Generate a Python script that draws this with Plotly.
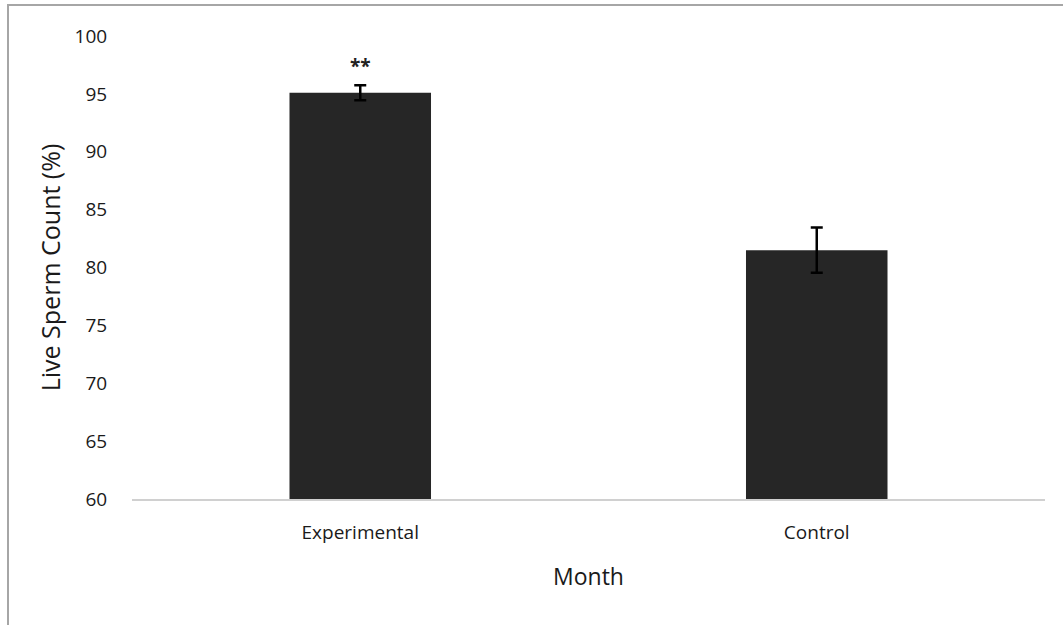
import plotly.graph_objects as go

# Live sperm count by group (mean ± error)
groups = ["Experimental", "Control"]
live_pct = [95.1, 81.5]
err_pct = [0.65, 1.95]
significance = ["**", ""]

y_ticks = [60, 65, 70, 75, 80, 85, 90, 95, 100]

FONT = "'Open Sans', Lato, Arial, sans-serif"

fig = go.Figure()
fig.add_trace(go.Bar(
    x=groups,
    y=live_pct,
    marker=dict(color="#262626", line=dict(width=0)),
    error_y=dict(type="data", array=err_pct, visible=True,
                 color="#000000", thickness=2.5, width=6),
    width=0.31,
    showlegend=False,
))

# significance markers above the error bars
for g, v, e, s in zip(groups, live_pct, err_pct, significance):
    if s:
        fig.add_annotation(x=g, y=v + e, text=f"<b>{s}</b>", showarrow=False,
                           yshift=19, font=dict(size=19, color="#222222", family=FONT))

# outer chart frame
fig.add_shape(type="rect", xref="paper", yref="paper",
              x0=(8 - 132) / 913, x1=1.2, y0=-0.5, y1=1 + (36 - 5) / 463,
              line=dict(color="#a6a6a6", width=2), fillcolor="rgba(0,0,0,0)",
              layer="below")

fig.update_layout(
    width=1063, height=625,
    margin=dict(l=132, r=18, t=36, b=126),
    paper_bgcolor="white", plot_bgcolor="white",
    font=dict(family=FONT, color="#1a1a1a"),
    xaxis=dict(
        showgrid=False, zeroline=False,
        showline=True, linecolor="#d0d0d0", linewidth=2,
        ticks="outside", ticklen=15, tickcolor="rgba(0,0,0,0)",
        tickfont=dict(size=19, color="#1a1a1a"),
        title=dict(text="Month", font=dict(size=23, color="#1a1a1a"), standoff=25),
    ),
    yaxis=dict(
        range=[60, 100], tickvals=y_ticks,
        showgrid=False, zeroline=False, showline=False,
        ticks="outside", ticklen=20, tickcolor="rgba(0,0,0,0)",
        tickfont=dict(size=19, color="#1a1a1a"),
        title=dict(text="Live Sperm Count (%)", font=dict(size=25, color="#1a1a1a"), standoff=6),
    ),
)

fig.write_html("out.html")
